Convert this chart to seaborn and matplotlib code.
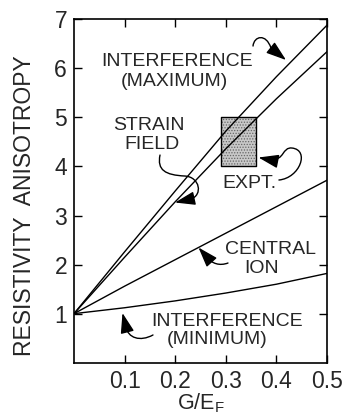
import numpy as np
import pandas as pd
import seaborn as sns
import matplotlib
matplotlib.use("Agg")
import matplotlib.pyplot as plt
from matplotlib.path import Path
from matplotlib.patches import FancyArrowPatch

# ---- data ----
g_over_ef = [0.0, 0.1, 0.2, 0.3, 0.4, 0.5]
interference_max = [1.0, 2.26, 3.50, 4.72, 5.83, 6.88]
strain_field = [1.0, 2.15, 3.28, 4.36, 5.38, 6.34]
central_ion = [1.0, 1.56, 2.10, 2.64, 3.18, 3.72]
interference_min = [1.0, 1.12, 1.26, 1.42, 1.60, 1.82]
expt_g = [0.29, 0.36]
expt_low = 4.0
expt_high = 5.0
x_ticks = [0.1, 0.2, 0.3, 0.4, 0.5]
x_ticklabels = ["0.1", "0.2", "0.3", "0.4", "0.5"]
y_ticks = [1, 2, 3, 4, 5, 6, 7]
y_ticklabels = ["1", "2", "3", "4", "5", "6", "7"]

series = {
    "max": interference_max,
    "strain": strain_field,
    "central": central_ion,
    "min": interference_min,
}
df = pd.concat(
    [pd.DataFrame({"g": g_over_ef, "r": v, "model": k}) for k, v in series.items()],
    ignore_index=True,
)

sns.set_style("ticks")
plt.rcParams["font.family"] = ["Liberation Sans", "DejaVu Sans"]
plt.rcParams["hatch.color"] = "#666666"
plt.rcParams["hatch.linewidth"] = 0.6

fig = plt.figure(figsize=(3.42, 4.18), dpi=100)
ax = fig.add_axes([74 / 342, 1 - 362.7 / 418, 253 / 342, 343.4 / 418])

sns.lineplot(data=df, x="g", y="r", hue="model", units="model", estimator=None,
             palette=["black"] * 4, legend=False, linewidth=1.0, ax=ax)

# experimental box
ax.fill_between(expt_g, expt_low, expt_high, facecolor="#c8c8c8",
                edgecolor="#666666", hatch="......", linewidth=0, zorder=1)
ax.fill_between(expt_g, expt_low, expt_high, facecolor="none",
                edgecolor="black", linewidth=1.0, zorder=3)

ax.set_xlim(0, 0.5)
ax.set_ylim(0, 7)
ax.set_xticks(x_ticks)
ax.set_xticklabels(x_ticklabels)
ax.set_yticks(y_ticks)
ax.set_yticklabels(y_ticklabels)
ax.tick_params(direction="in", top=True, right=True, length=6, width=1,
               labelsize=16.5, color="black")
ax.tick_params(axis="x", pad=5)
ax.tick_params(axis="y", pad=5)
for s in ax.spines.values():
    s.set_linewidth(1.2)
    s.set_color("black")

ax.set_ylabel("RESISTIVITY  ANISOTROPY", fontsize=16.5)
ax.yaxis.set_label_coords(-0.15, 0.458)
ax.set_xlabel(r"G/E$_\mathregular{F}$", fontsize=15.5)
ax.xaxis.set_label_coords(0.5, -0.085)

# labels
tk = dict(fontsize=14, ha="center", va="center")
ax.text(0.203, 6.135, "INTERFERENCE", **tk)
ax.text(0.198, 5.728, "(MAXIMUM)", **tk)
ax.text(0.148, 4.845, "STRAIN", **tk)
ax.text(0.154, 4.458, "FIELD", **tk)
ax.text(0.346, 3.643, "EXPT.", **tk)
ax.text(0.389, 2.311, "CENTRAL", **tk)
ax.text(0.370, 1.924, "ION", **tk)
ax.text(0.302, 0.85, "INTERFERENCE", **tk)
ax.text(0.282, 0.463, "(MINIMUM)", **tk)


def curly_arrow(pts):
    codes = [Path.MOVETO] + [Path.CURVE4] * (len(pts) - 2) + [Path.LINETO]
    p = Path(pts, codes)
    a = FancyArrowPatch(path=p, arrowstyle="-|>,head_length=0.65,head_width=0.22",
                        mutation_scale=19, color="black", linewidth=1.0,
                        transform=ax.transData, zorder=4)
    ax.add_patch(a)


curly_arrow([(0.3538, 6.455), (0.3557, 6.659), (0.3794, 6.721), (0.3893, 6.415),
             (0.4190, 6.17)])
curly_arrow([(0.170, 4.233), (0.164, 3.927), (0.180, 3.825), (0.2194, 3.805),
             (0.249, 3.784), (0.255, 3.417), (0.231, 3.336), (0.1996, 3.265)])
curly_arrow([(0.405, 3.724), (0.4466, 3.765), (0.4664, 4.336), (0.4308, 4.376),
             (0.411, 4.397), (0.417, 4.132), (0.3893, 4.132), (0.3646, 4.183)])
curly_arrow([(0.3043, 2.032), (0.2885, 1.971), (0.2727, 2.012), (0.2628, 2.154),
             (0.246, 2.348)])
curly_arrow([(0.1561, 0.565), (0.1304, 0.422), (0.1067, 0.504), (0.1028, 0.728),
             (0.0958, 1.013)])

fig.savefig("out.png", dpi=100)
